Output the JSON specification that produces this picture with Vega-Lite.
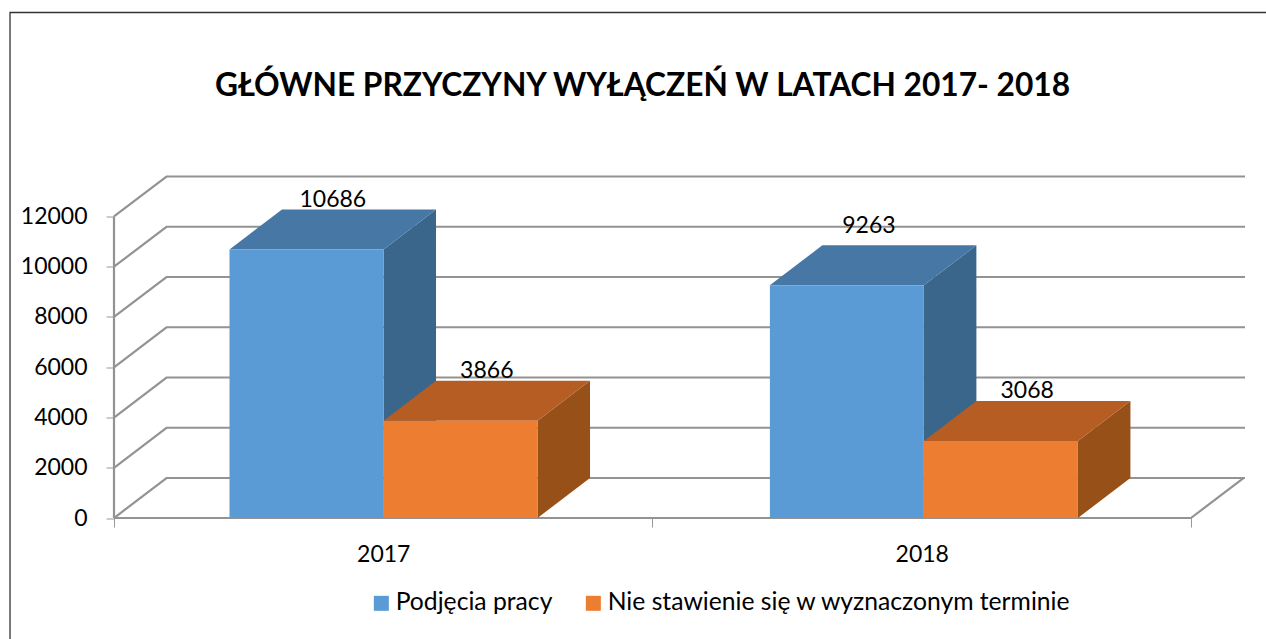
{
"$schema":"https://vega.github.io/schema/vega-lite/v6.json",
"width":1131,"height":341.5,
"autosize":{"type":"none"},
"padding":{"left":114,"top":176.5,"right":21,"bottom":121},
"background":"white",
"config":{"view":{"stroke":null},"font":"Lato"},
"title":{"text":"GŁÓWNE PRZYCZYNY WYŁĄCZEŃ W LATACH 2017- 2018","font":"Lato","fontSize":31.7,"fontWeight":"bold","color":"#000000","anchor":"middle","dx":-37,"offset":-93},
"data":{"values":[
{"year":"2017","series":"Podjęcia pracy","value":10686},
{"year":"2017","series":"Nie stawienie się w wyznaczonym terminie","value":3866},
{"year":"2018","series":"Podjęcia pracy","value":9263},
{"year":"2018","series":"Nie stawienie się w wyznaczonym terminie","value":3068}
]},
"transform":[
{"calculate":"datum.year=='2017'?0.5005:1.504","as":"g"},
{"calculate":"datum.series=='Podjęcia pracy'?datum.g-0.286:datum.g","as":"x0"},
{"calculate":"datum.x0+0.286","as":"x1"},
{"calculate":"datum.year+datum.series","as":"bar"}
],
"layer":[
{"data":{"values":[{"level":0},{"level":2000},{"level":4000},{"level":6000},{"level":8000},{"level":10000},{"level":12000}]},
 "transform":[{"calculate":"[0,1,2]","as":"p"},{"flatten":["p"]},
  {"calculate":"datum.p==0?0:datum.p==1?0.0975:2.1003","as":"gx"},
  {"calculate":"datum.level+(datum.p==0?0:1592)","as":"gy"}],
 "mark":{"type":"line","stroke":"#939393","strokeWidth":2.2,"clip":false},
 "encoding":{
  "x":{"field":"gx","type":"quantitative","scale":{"domain":[0,2.1003],"nice":false,"zero":false},
   "axis":{"title":null,"grid":false,"domain":false,"values":[0,0.5,1,1.5,2],"labelExpr":"datum.value==0.5?'2017':datum.value==1.5?'2018':''","tickSize":9,"tickWidth":1,"tickColor":"#999999","tickOpacity":{"condition":{"test":"datum.value==0.5||datum.value==1.5","value":0},"value":1},"labelFont":"Lato","labelFontSize":23,"labelColor":"#000000","labelPadding":16,"labelAngle":0,"labelOverlap":false,"labelFlush":false}},
  "y":{"field":"gy","type":"quantitative","scale":{"domain":[0,13592],"nice":false,"zero":false},
   "axis":{"title":null,"grid":false,"domain":false,"values":[0,2000,4000,6000,8000,10000,12000],"format":"d","tickSize":8,"tickWidth":1,"tickColor":"#999999","labelFont":"Lato","labelFontSize":23,"labelColor":"#000000","labelPadding":19,"labelOverlap":false,"labelFlush":false}},
  "detail":{"field":"level"}}},
{"data":{"values":[
 {"part":"floor","fx":0,"fy":0},{"part":"floor","fx":2,"fy":0},{"part":"floor","fx":2.0975,"fy":1592},
 {"part":"wall","fx":0,"fy":0},{"part":"wall","fx":0,"fy":12000}]},
 "mark":{"type":"line","stroke":"#939393","strokeWidth":2.2,"clip":false},
 "encoding":{"x":{"field":"fx","type":"quantitative","title":null},"y":{"field":"fy","type":"quantitative","title":null},"detail":{"field":"part"},"order":null}},
{"data":{"values":[{"fx":-0.1931,"fy":-4900},{"fx":-0.1931,"fy":20119},{"fx":2.2,"fy":20119}]},
 "mark":{"type":"line","stroke":"#333333","strokeWidth":1.3,"clip":false},
 "encoding":{"x":{"field":"fx","type":"quantitative","title":null},"y":{"field":"fy","type":"quantitative","title":null},"order":null}},
{"transform":[{"calculate":"[0,1]","as":"t"},{"flatten":["t"]},
  {"calculate":"datum.x1+datum.t*0.0975","as":"sx"},
  {"calculate":"datum.t*1592","as":"sb"},
  {"calculate":"datum.value+datum.t*1592","as":"st"}],
 "mark":{"type":"area","orient":"vertical","clip":false},
 "encoding":{"x":{"field":"sx","type":"quantitative","title":null},
  "y":{"field":"st","type":"quantitative","title":null,"stack":null},"y2":{"field":"sb"},
  "detail":{"field":"bar"},
  "color":{"condition":{"test":"datum.series=='Podjęcia pracy'","value":"#3A668C"},"value":"#985019"}}},
{"transform":[{"calculate":"[0,1]","as":"t"},{"flatten":["t"]},
  {"calculate":"datum.x0+datum.t*0.0975","as":"ta"},
  {"calculate":"datum.x1+datum.t*0.0975","as":"tb"},
  {"calculate":"datum.value+datum.t*1592","as":"ty"}],
 "mark":{"type":"area","orient":"horizontal","clip":false},
 "encoding":{"y":{"field":"ty","type":"quantitative","title":null},
  "x":{"field":"ta","type":"quantitative","title":null,"stack":null},"x2":{"field":"tb"},
  "detail":{"field":"bar"},
  "color":{"condition":{"test":"datum.series=='Podjęcia pracy'","value":"#4677A5"},"value":"#B55D22"}}},
{"mark":{"type":"rect"},
 "encoding":{"x":{"field":"x0","type":"quantitative","title":null},"x2":{"field":"x1"},
  "y":{"field":"value","type":"quantitative","title":null},"y2":{"datum":0},
  "color":{"field":"series","type":"nominal","sort":["Podjęcia pracy","Nie stawienie się w wyznaczonym terminie"],
   "scale":{"domain":["Podjęcia pracy","Nie stawienie się w wyznaczonym terminie"],"range":["#5B9BD5","#ED7D31"]},
   "legend":{"title":null,"orient":"none","legendX":255,"legendY":414,"direction":"horizontal","columns":2,"symbolType":"square","symbolSize":225,"symbolStrokeWidth":0,"symbolOpacity":1,"labelFont":"Lato","labelFontSize":24.7,"labelColor":"#000000","labelOffset":2,"columnPadding":28,"labelLimit":600}}}},
{"transform":[
  {"calculate":"(datum.x0+datum.x1)/2+(datum.value==9263?0.041:0.0488)","as":"lx"},
  {"calculate":"datum.value+1592+(datum.value==9263?400:0)","as":"ly"}],
 "mark":{"type":"text","font":"Lato","fontSize":23,"color":"#000000","baseline":"bottom","dy":2.5,"clip":false},
 "encoding":{"x":{"field":"lx","type":"quantitative","title":null},"y":{"field":"ly","type":"quantitative","title":null},"text":{"field":"value","type":"quantitative","format":"d"}}}
]
}
